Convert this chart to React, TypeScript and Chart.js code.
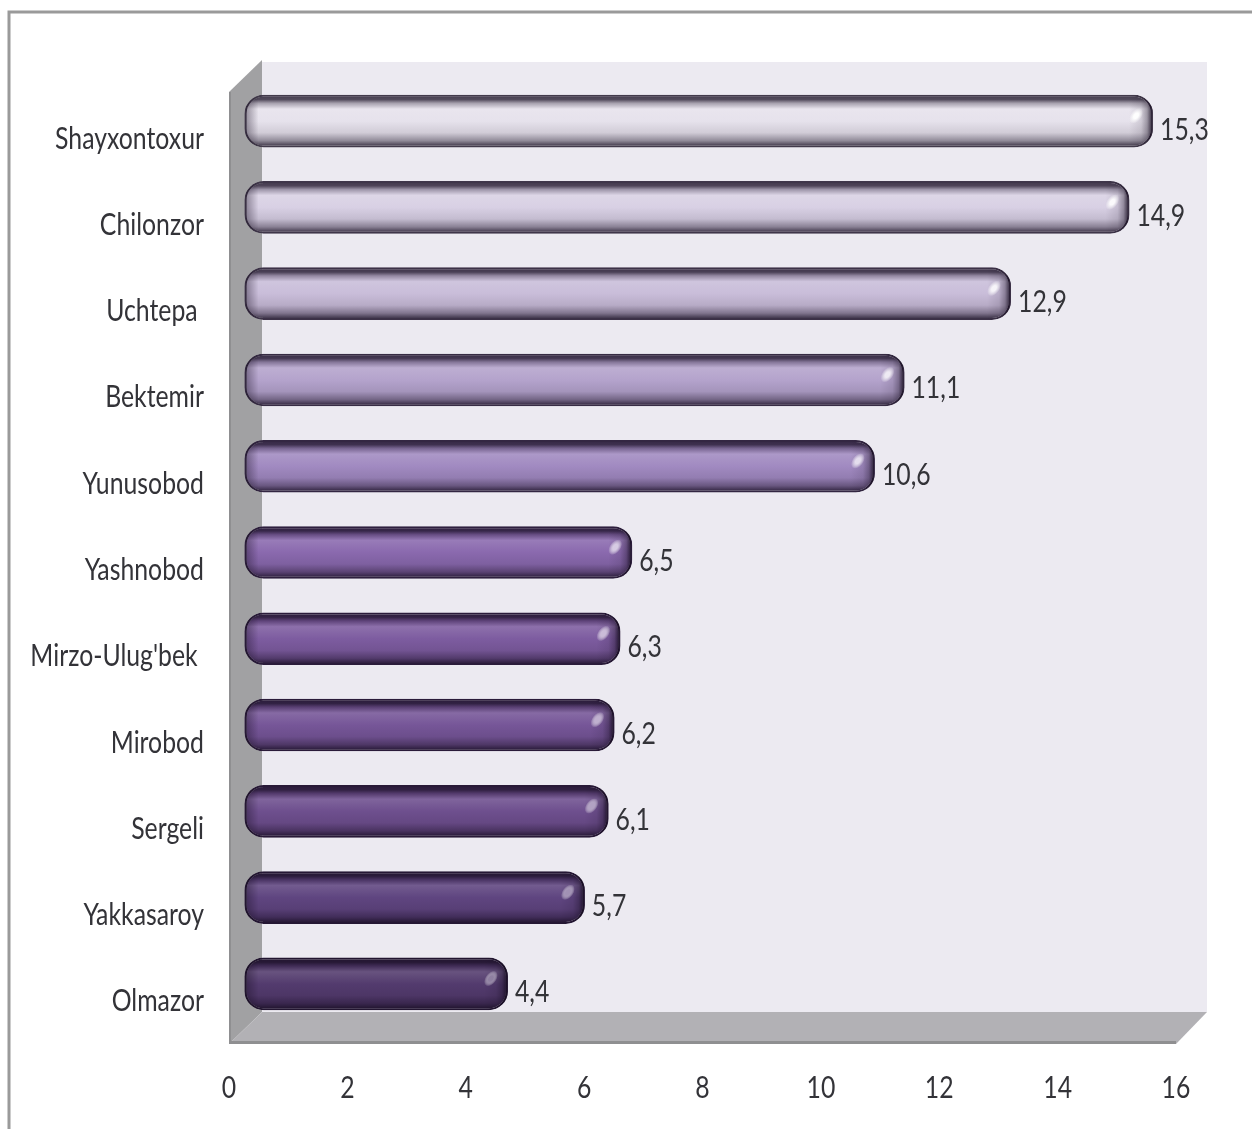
import React, { useEffect, useRef } from "react";
import { Chart, registerables } from "chart.js";

Chart.register(...registerables);

const districts = ["Shayxontoxur", "Chilonzor", "Uchtepa ", "Bektemir", "Yunusobod", "Yashnobod", "Mirzo-Ulug'bek ", "Mirobod", "Sergeli", "Yakkasaroy", "Olmazor"];
const shares = [15.3, 14.9, 12.9, 11.1, 10.6, 6.5, 6.3, 6.2, 6.1, 5.7, 4.4];
const xTicks = [0, 2, 4, 6, 8, 10, 12, 14, 16];
const barColors = ["#e6e2ec", "#d8d0e4", "#c9bdd9", "#b4a3cc", "#a18ac1", "#8a69ae", "#7d5ca0", "#765698", "#6e4f8e", "#5f4580", "#533b6e"];

const FONT = "Lato, 'Liberation Sans', sans-serif";
const FONT_SIZE = 31;
const TEXT_SQUEEZE = 0.8;
const TEXT_COLOR = "#333338";
const DEPTH_X = 18.5;
const DEPTH_Y = -17;
const RADIUS = 19;

function mix(hex: string, target: string, t: number) {
  const p = (h: string) => [1, 3, 5].map((i) => parseInt(h.slice(i, i + 2), 16));
  const a = p(hex);
  const b = p(target);
  return `rgb(${a.map((v, i) => Math.round(v + (b[i] - v) * t)).join(",")})`;
}

function squeezedText(ctx: any, text: string, x: number, y: number, align: "left" | "right" | "center") {
  ctx.save();
  ctx.translate(x, y);
  ctx.scale(TEXT_SQUEEZE, 1);
  ctx.fillStyle = TEXT_COLOR;
  ctx.font = `${FONT_SIZE}px ${FONT}`;
  ctx.textAlign = align;
  ctx.textBaseline = "middle";
  ctx.fillText(text, 0, 0);
  ctx.restore();
}

const scene = {
  id: "scene",
  beforeDraw(chart: any) {
    const { ctx, chartArea: a, width, height } = chart;
    const dx = 33;
    const dy = 32;
    ctx.save();
    ctx.fillStyle = "#ffffff";
    ctx.fillRect(0, 0, width, height);
    // outer frame
    ctx.strokeStyle = "#9a9a9a";
    ctx.lineWidth = 3;
    ctx.beginPath();
    ctx.moveTo(9, height);
    ctx.lineTo(9, 12);
    ctx.lineTo(width, 12);
    ctx.stroke();
    // back wall
    ctx.fillStyle = "#eceaf1";
    ctx.fillRect(a.left + dx, a.top - dy - 1, a.right - a.left + 31 - dx, a.bottom - a.top + 1);
    // left wall
    ctx.fillStyle = "#a1a1a3";
    ctx.beginPath();
    ctx.moveTo(a.left, a.top - 3);
    ctx.lineTo(a.left + dx, a.top - 3 - dy);
    ctx.lineTo(a.left + dx, a.bottom - dy);
    ctx.lineTo(a.left, a.bottom);
    ctx.closePath();
    ctx.fill();
    // floor
    ctx.fillStyle = "#b2b1b5";
    ctx.beginPath();
    ctx.moveTo(a.left, a.bottom);
    ctx.lineTo(a.right, a.bottom);
    ctx.lineTo(a.right + 31, a.bottom - dy);
    ctx.lineTo(a.left + dx, a.bottom - dy);
    ctx.closePath();
    ctx.fill();
    ctx.fillStyle = "#8f8f91";
    ctx.fillRect(a.left, a.bottom - 3, a.right - a.left, 3);
    ctx.fillRect(a.left, a.top - 3, 2, a.bottom - a.top + 3);
    ctx.restore();
  },
  beforeDatasetsDraw(chart: any) {
    chart.ctx.save();
    chart.ctx.translate(DEPTH_X, DEPTH_Y);
    chart.ctx.filter = "blur(0.6px)";
  },
  afterDatasetsDraw(chart: any) {
    const { ctx } = chart;
    ctx.filter = "none";
    const bars = chart.getDatasetMeta(0).data;
    bars.forEach((bar: any, i: number) => {
      const top = bar.y - bar.height / 2;
      const left = bar.base;
      const right = bar.x;
      const dark = mix(barColors[i], "#140a1e", 0.72);
      // end shading
      ctx.save();
      ctx.beginPath();
      ctx.roundRect(left, top, right - left, bar.height, RADIUS);
      ctx.clip();
      const g = ctx.createLinearGradient(right - 24, 0, right, 0);
      g.addColorStop(0, "rgba(20,10,30,0)");
      g.addColorStop(0.5, "rgba(20,10,30,0.1)");
      g.addColorStop(0.75, "rgba(20,10,30,0.35)");
      g.addColorStop(0.9, "rgba(20,10,30,0.7)");
      g.addColorStop(1, dark);
      ctx.fillStyle = g;
      ctx.fillRect(right - 24, top, 24, bar.height);
      const h = ctx.createLinearGradient(left, 0, left + 14, 0);
      h.addColorStop(0, dark);
      h.addColorStop(0.2, "rgba(20,10,30,0.35)");
      h.addColorStop(1, "rgba(20,10,30,0)");
      ctx.fillStyle = h;
      ctx.fillRect(left, top, 14, bar.height);
      ctx.restore();
      // glare
      ctx.save();
      ctx.translate(right - 17, top + 21);
      ctx.rotate(-Math.PI / 3.4);
      ctx.scale(1.6, 1);
      const r = ctx.createRadialGradient(0, 0, 0, 0, 0, 5.5);
      const glare = mix(barColors[i], "#ffffff", 0.45 + i * -0.01 + (10 - i) * 0.05);
      r.addColorStop(0, glare);
      r.addColorStop(0.35, glare);
      r.addColorStop(1, "rgba(255,255,255,0)");
      ctx.fillStyle = r;
      ctx.beginPath();
      ctx.arc(0, 0, 5.5, 0, Math.PI * 2);
      ctx.fill();
      ctx.restore();
      // value label
      squeezedText(ctx, shares[i].toFixed(1).replace(".", ","), right + 7, bar.y + 8.5, "left");
    });
    ctx.restore();
  },
  afterDraw(chart: any) {
    const { ctx, scales } = chart;
    scales.y.ticks.forEach((t: any, i: number) => {
      squeezedText(ctx, String(t.label), 204, scales.y.getPixelForTick(i) + 0.5, "right");
    });
    scales.x.ticks.forEach((t: any, i: number) => {
      squeezedText(ctx, String(t.value), scales.x.getPixelForTick(i), 1088, "center");
    });
  },
};

export default function App() {
  const ref = useRef<HTMLCanvasElement>(null);
  useEffect(() => {
    const chart = new Chart(ref.current as HTMLCanvasElement, {
      type: "bar",
      data: {
        labels: districts,
        datasets: [
          {
            data: shares,
            base: -0.05,
            clip: false,
            barPercentage: 1,
            categoryPercentage: 0.61,
            borderRadius: RADIUS,
            borderSkipped: false,
            borderWidth: 2,
            borderColor: (c: any) => mix(barColors[c.dataIndex ?? 0], "#140a1e", 0.78),
            backgroundColor: (c: any) => {
              const ch = c.chart;
              const y = ch.scales.y;
              if (!y || c.dataIndex === undefined) return barColors[0];
              const band = (y.bottom - y.top) / districts.length;
              const cy = y.getPixelForValue(c.dataIndex);
              const hh = band * 0.305;
              const b = barColors[c.dataIndex];
              if (!Number.isFinite(cy) || !Number.isFinite(hh)) return b;
              const g = ch.ctx.createLinearGradient(0, cy - hh, 0, cy + hh);
              g.addColorStop(0, mix(b, "#140a1e", 0.78));
              g.addColorStop(0.09, mix(b, "#140a1e", 0.7));
              g.addColorStop(0.16, mix(b, "#140a1e", 0.3));
              g.addColorStop(0.27, mix(b, "#ffffff", 0.12));
              g.addColorStop(0.5, b);
              g.addColorStop(0.72, mix(b, "#140a1e", 0.1));
              g.addColorStop(0.87, mix(b, "#140a1e", 0.4));
              g.addColorStop(0.95, mix(b, "#140a1e", 0.7));
              g.addColorStop(1, mix(b, "#140a1e", 0.78));
              return g;
            },
          },
        ],
      },
      options: {
        indexAxis: "y",
        animation: false,
        responsive: false,
        devicePixelRatio: 1,
        layout: { padding: { top: 95, right: 76, left: 0, bottom: 0 } },
        plugins: { legend: { display: false }, tooltip: { enabled: false } },
        scales: {
          x: {
            min: 0,
            max: 16,
            afterFit: (s: any) => {
              s.height = 85;
            },
            afterBuildTicks: (s: any) => {
              s.ticks = xTicks.map((value) => ({ value }));
            },
            grid: { display: false, drawTicks: false },
            border: { display: false },
            ticks: { display: false, autoSkip: false },
          },
          y: {
            afterFit: (s: any) => {
              s.width = 229;
            },
            grid: { display: false, drawTicks: false },
            border: { display: false },
            ticks: { display: false, autoSkip: false },
          },
        },
      },
      plugins: [scene],
    } as any);
    return () => chart.destroy();
  }, []);
  return (
    <canvas
      ref={ref}
      width={1252}
      height={1129}
      style={{ position: "absolute", left: 0, top: 0, display: "block" }}
    />
  );
}
